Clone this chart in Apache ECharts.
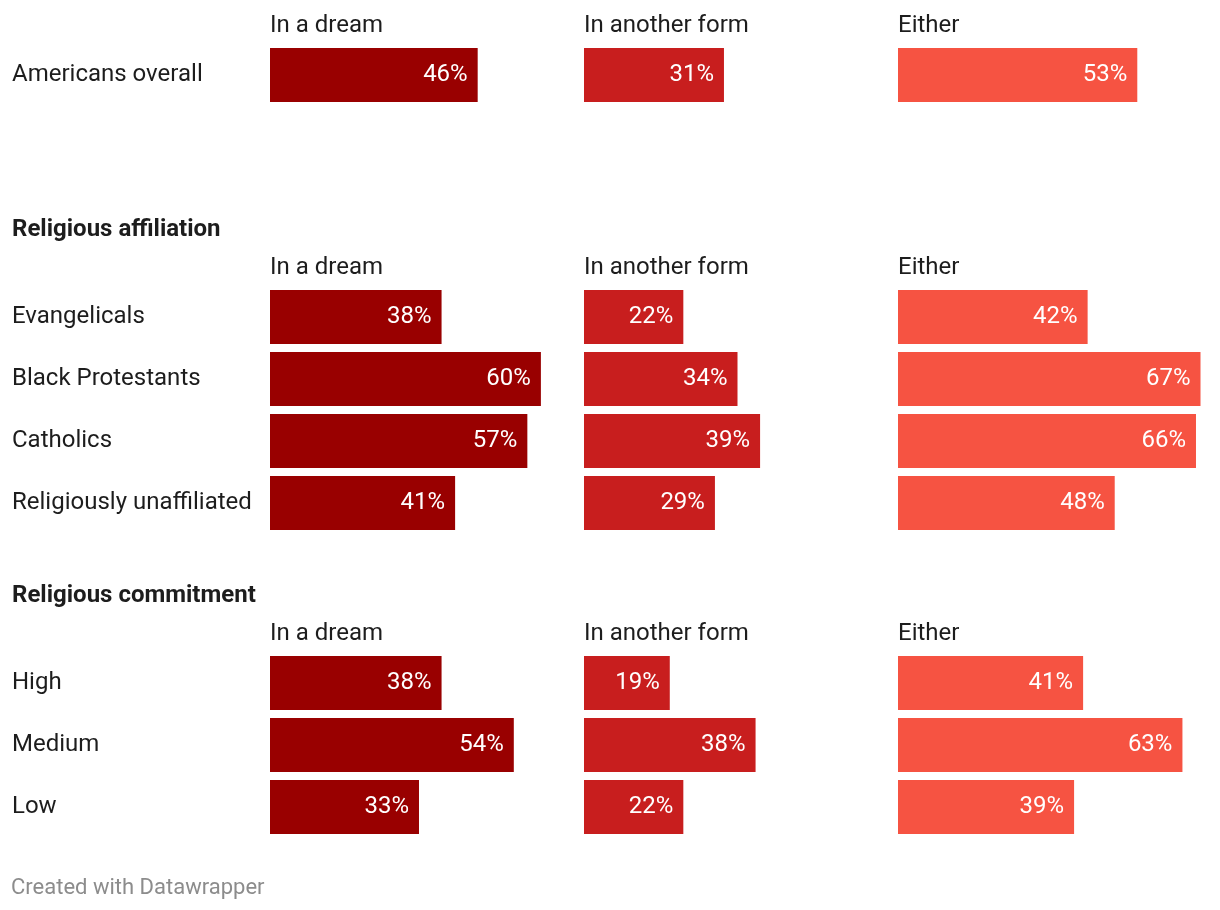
<!DOCTYPE html>
<html>
<head>
<meta charset="utf-8">
<script src="https://cdn.jsdelivr.net/npm/echarts@6/dist/echarts.min.js"></script>
<style>
html,body{margin:0;padding:0;background:#fff;}
#chart{width:1220px;height:910px;}
</style>
</head>
<body>
<div id="chart"></div>
<script>
const columnTitles = ['In a dream', 'In another form', 'Either'];
const sectionTitles = ['', 'Religious affiliation', 'Religious commitment'];
const overallCats = ['Americans overall'];
const overallDream = [46];
const overallOther = [31];
const overallEither = [53];
const affilCats = ['Evangelicals', 'Black Protestants', 'Catholics', 'Religiously unaffiliated'];
const affilDream = [38, 60, 57, 41];
const affilOther = [22, 34, 39, 29];
const affilEither = [42, 67, 66, 48];
const commitCats = ['High', 'Medium', 'Low'];
const commitDream = [38, 54, 33];
const commitOther = [19, 38, 22];
const commitEither = [41, 63, 39];
const footer = 'Created with Datawrapper';

const sections = [
  {cats: overallCats, vals: [overallDream, overallOther, overallEither]},
  {cats: affilCats, vals: [affilDream, affilOther, affilEither]},
  {cats: commitCats, vals: [commitDream, commitOther, commitEither]}
];
const colors = ['#990000', '#c81e1e', '#f65342'];
const colLeft = [270, 584, 898];
const secTop = [44, 286, 652];
const rowH = 62;
const FONT = 'Roboto, "Noto Sans", sans-serif';

const grid = [], xAxis = [], yAxis = [], series = [], graphic = [];
let gi = 0;
sections.forEach((sec, si) => {
  sec.vals.forEach((vals, ci) => {
    grid.push({left: colLeft[ci], top: secTop[si], width: 302.5, height: rowH * sec.cats.length, containLabel: false});
    xAxis.push({gridIndex: gi, type: 'value', min: 0, max: 67, show: false});
    yAxis.push({
      gridIndex: gi, type: 'category', data: sec.cats, inverse: true,
      axisLine: {show: false}, axisTick: {show: false}, splitLine: {show: false},
      axisLabel: ci === 0 ? {show: true, align: 'left', margin: 258, color: '#1d1d1d', fontSize: 24, fontFamily: FONT, padding: [2, 0, 0, 0]} : {show: false}
    });
    series.push({
      type: 'bar', xAxisIndex: gi, yAxisIndex: gi, data: vals, barWidth: 54,
      itemStyle: {color: colors[ci]}, silent: true,
      label: {show: true, position: 'insideRight', distance: 10, color: '#fff', fontSize: 24, fontFamily: FONT, padding: [2, 0, 0, 0], formatter: p => p.value + '%'}
    });
    graphic.push({type: 'text', left: colLeft[ci], top: secTop[si] - 30,
      style: {text: columnTitles[ci], fill: '#1d1d1d', font: '24px ' + FONT}});
    gi++;
  });
  if (sectionTitles[si]) {
    graphic.push({type: 'text', left: 12, top: secTop[si] - 68,
      style: {text: sectionTitles[si], fill: '#1d1d1d', font: 'bold 24px ' + FONT}});
  }
});
graphic.push({type: 'text', left: 11, top: 877, style: {text: footer, fill: '#8c8c8c', font: '22px ' + FONT}});

const chart = echarts.init(document.getElementById('chart'));
chart.setOption({animation: false, backgroundColor: '#fff', grid, xAxis, yAxis, series, graphic});
</script>
</body>
</html>
